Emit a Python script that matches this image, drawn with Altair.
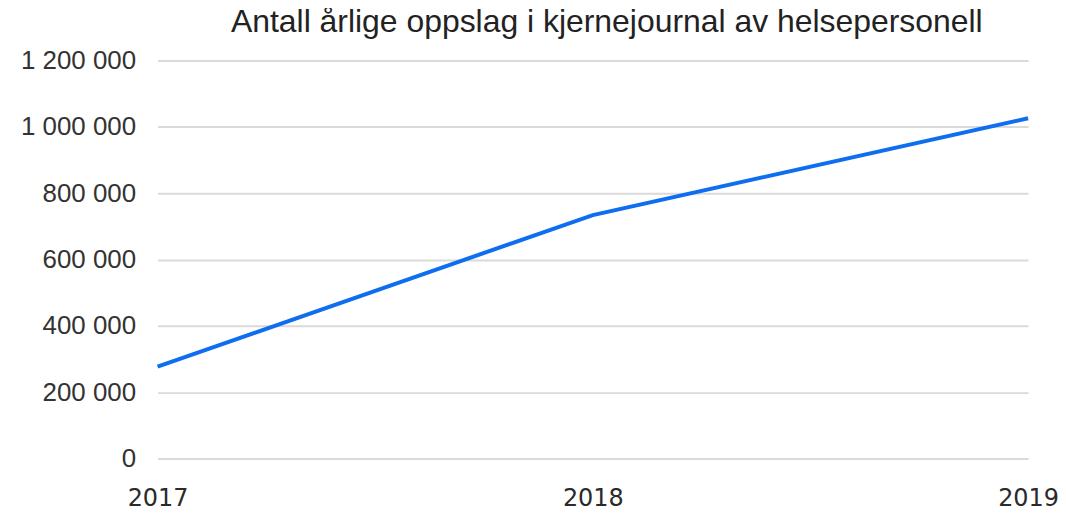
import altair as alt
import pandas as pd

years = ["2017", "2018", "2019"]
lookups = [277000, 734000, 1026000]
y_ticks = [0, 200000, 400000, 600000, 800000, 1000000, 1200000]

df = pd.DataFrame({"year": years, "value": lookups})

chart = alt.Chart(df).mark_line(color="#0f6ef0", strokeWidth=4).encode(
    x=alt.X("year:O", scale=alt.Scale(type="point", padding=0),
            axis=alt.Axis(title=None, labelAngle=0, ticks=False, domain=False,
                          labelFont="DejaVu Sans", labelFontSize=24, labelColor="#2a2a2a",
                          labelPadding=28, grid=False)),
    y=alt.Y("value:Q", scale=alt.Scale(domain=[0, 1200000]),
            axis=alt.Axis(title=None, values=y_ticks,
                          labelExpr="replace(format(datum.value, ','), /,/g, ' ')",
                          ticks=False, domain=False,
                          labelFont="Liberation Sans", labelFontSize=26, labelColor="#333333",
                          labelPadding=22, gridColor="#dadada", gridWidth=2)),
).properties(
    width=873, height=399,
    title=alt.TitleParams("Antall årlige oppslag i kjernejournal av helsepersonell",
                          font="Liberation Sans", fontSize=32, fontWeight="normal",
                          color="#222222", anchor="middle", dx=14, offset=9),
    padding={"left": 150, "top": 52, "right": 30, "bottom": 56},
    autosize="none",
).configure_view(stroke=None)

chart.save("out.html", embed_options={"renderer": "svg", "actions": False})
